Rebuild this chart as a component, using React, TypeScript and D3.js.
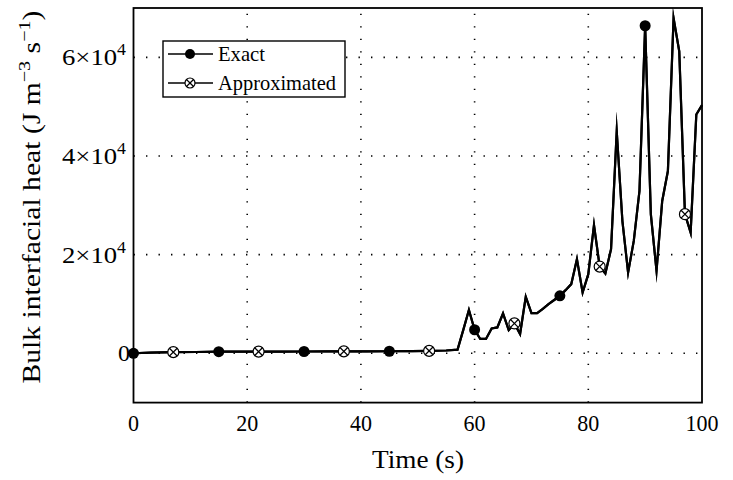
import React from "react";
import * as d3 from "d3";

const timeSeconds = [0, 3, 7, 11, 15, 19, 22, 26, 30, 34, 37, 41, 45, 49, 52, 55, 57, 58, 59, 60, 61, 62, 63, 64, 65, 66, 67, 68, 69, 70, 71, 72, 73, 74, 75, 76, 77, 78, 79, 80, 81, 82, 83, 84, 85, 86, 87, 88, 89, 90, 91, 92, 93, 94, 95, 96, 97, 98, 99, 100];
const exactHeat = [0, 120, 230, 260, 320, 330, 340, 350, 360, 370, 380, 390, 410, 440, 480, 560, 730, 4700, 8760, 4770, 2900, 2900, 5040, 5240, 8070, 4710, 6050, 3900, 11450, 8150, 8150, 9000, 9970, 10800, 11650, 12800, 14020, 19080, 12320, 16040, 26000, 17580, 16160, 21100, 45030, 26800, 16370, 22780, 32900, 66400, 28200, 16700, 30870, 36940, 67950, 61200, 28200, 24460, 48400, 50300];
const approxHeat = exactHeat;
const exactMarkerTimes = [0, 15, 30, 45, 60, 75, 90];
const approxMarkerTimes = [7, 22, 37, 52, 67, 82, 97];
const xTicks = [0, 20, 40, 60, 80, 100];
const yTicks = [0, 20000, 40000, 60000];
const yTickMantissa = ["0", "2", "4", "6"];
const legendLabels = ["Exact", "Approximated"];

const W = 733;
const H = 480;
const M = { left: 133.5, right: 702, top: 8, bottom: 402.6 };
const FONT = "'Liberation Serif', 'Times New Roman', serif";

function valueAt(series: number[], t: number) {
  const i = timeSeconds.indexOf(t);
  return series[i];
}

function Otimes({ cx, cy, r }: { cx: number; cy: number; r: number }) {
  const d = r * Math.SQRT1_2;
  return (
    <g stroke="#000" strokeWidth={1.2} fill="#fff">
      <circle cx={cx} cy={cy} r={r} />
      <line x1={cx - d} y1={cy - d} x2={cx + d} y2={cy + d} />
      <line x1={cx - d} y1={cy + d} x2={cx + d} y2={cy - d} />
    </g>
  );
}

export default function App() {
  const x = d3.scaleLinear().domain([0, 100]).range([M.left, M.right]);
  const y = d3.scaleLinear().domain([-10000, 70000]).range([M.bottom, M.top]);

  const line = d3
    .line<number>()
    .x((_, i) => x(timeSeconds[i]))
    .y((v) => y(v));

  const gridX = xTicks.filter((t) => t > 0 && t < 100);

  return (
    <svg
      width={W}
      height={H}
      style={{ position: "absolute", left: 0, top: 0, background: "#fff" }}
      fontFamily={FONT}
    >
      <rect x={0} y={0} width={W} height={H} fill="#fff" />
      {/* grid */}
      <g stroke="#000" strokeWidth={1.6} strokeDasharray="1.4 11.1" strokeLinecap="butt">
        {gridX.map((t) => (
          <line key={"gx" + t} x1={x(t)} x2={x(t)} y1={M.bottom} y2={M.top} />
        ))}
        {yTicks.map((t) => (
          <line key={"gy" + t} x1={M.left} x2={M.right} y1={y(t)} y2={y(t)} />
        ))}
      </g>

      {/* data lines */}
      <path d={line(approxHeat) || ""} fill="none" stroke="#000" strokeWidth={2.2} strokeLinejoin="miter" strokeMiterlimit={20} />
      <path d={line(exactHeat) || ""} fill="none" stroke="#000" strokeWidth={2.2} strokeLinejoin="miter" strokeMiterlimit={20} />

      {/* markers */}
      {approxMarkerTimes.map((t) => (
        <Otimes key={"a" + t} cx={x(t)} cy={y(valueAt(approxHeat, t))} r={5.5} />
      ))}
      {exactMarkerTimes.map((t) => (
        <circle key={"e" + t} cx={x(t)} cy={y(valueAt(exactHeat, t))} r={5.5} fill="#000" />
      ))}

      {/* frame */}
      <rect
        x={M.left}
        y={M.top}
        width={M.right - M.left}
        height={M.bottom - M.top}
        fill="none"
        stroke="#000"
        strokeWidth={1.8}
      />

      {/* x tick labels */}
      {xTicks.map((t) => (
        <text
          key={"xt" + t}
          x={x(t)}
          y={431}
          textAnchor="middle"
          fontSize={24}
          textLength={String(t).length * 11}
          lengthAdjust="spacingAndGlyphs"
        >
          {t}
        </text>
      ))}

      {/* y tick labels */}
      {yTicks.map((t, i) =>
        t === 0 ? (
          <text key={"yt" + t} x={130} y={y(t) + 8} textAnchor="end" fontSize={24} textLength={12} lengthAdjust="spacingAndGlyphs">
            0
          </text>
        ) : (
          <text
            key={"yt" + t}
            x={62}
            y={y(t) + 8}
            fontSize={24}
            textLength={64}
            lengthAdjust="spacingAndGlyphs"
          >
            {yTickMantissa[i]}×10
            <tspan dy={-10} fontSize={16}>
              4
            </tspan>
          </text>
        )
      )}

      {/* axis titles */}
      <text x={418} y={468} textAnchor="middle" fontSize={26} textLength={92} lengthAdjust="spacingAndGlyphs">
        Time (s)
      </text>
      <text
        transform="translate(40,197) rotate(-90)"
        textAnchor="middle"
        fontSize={25}
        textLength={373}
        lengthAdjust="spacingAndGlyphs"
      >
        Bulk interfacial heat (J m
        <tspan dy={-10} fontSize={17}>
          −3
        </tspan>
        <tspan dy={10}> s</tspan>
        <tspan dy={-10} fontSize={17}>
          −1
        </tspan>
        <tspan dy={10}>)</tspan>
      </text>

      {/* legend */}
      <g>
        <rect x={163} y={41} width={182} height={56} fill="#fff" stroke="#000" strokeWidth={1.4} />
        <line x1={168} x2={213} y1={54} y2={54} stroke="#000" strokeWidth={1.6} />
        <circle cx={190} cy={54} r={5} fill="#000" />
        <text x={218} y={61} fontSize={21} textLength={47} lengthAdjust="spacingAndGlyphs">
          {legendLabels[0]}
        </text>
        <line x1={168} x2={213} y1={83} y2={83} stroke="#000" strokeWidth={1.6} />
        <Otimes cx={190} cy={83} r={5} />
        <text x={218} y={90} fontSize={21} textLength={118} lengthAdjust="spacingAndGlyphs">
          {legendLabels[1]}
        </text>
      </g>
    </svg>
  );
}
